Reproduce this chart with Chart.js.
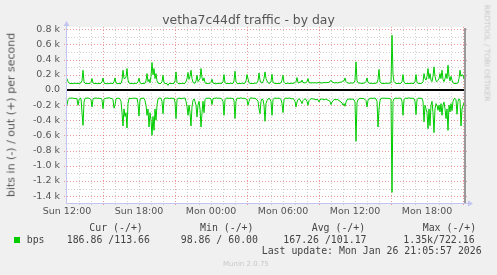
<!DOCTYPE html>
<html>
<head>
<meta charset="utf-8">
<script src="https://cdn.jsdelivr.net/npm/chart.js@4/dist/chart.umd.min.js"></script>
<style>
body { margin: 0; background: #f0f0f0; width: 497px; height: 275px; overflow: hidden; position: relative; font-family: "DejaVu Sans", sans-serif; }
canvas { position: absolute; left: 0; top: 0; }
.t { position: absolute; white-space: pre; color: #555; }
.mono { font-family: "DejaVu Sans Mono", monospace; font-size: 9.9px; line-height: 12px; color: #444; }
</style>
</head>
<body>
<canvas id="myChart" width="497" height="275"></canvas>
<div class="t" style="left:0;width:497px;text-align:center;top:11.5px;font-size:12.4px;line-height:15px;">vetha7c44df traffic - by day</div>
<div class="t" style="left:11px;top:114.5px;font-size:11px;line-height:13px;transform:translate(-50%,-50%) rotate(-90deg);">bits in (-) / out (+) per second</div>
<div class="t" style="left:487px;top:53px;font-size:7.5px;line-height:9px;color:#c8c8c8;transform:translate(-50%,-50%) rotate(90deg);">RRDTOOL / TOBI OETIKER</div>
<div id="legend"></div>
<div class="t" style="left:223px;top:259.6px;font-size:7px;line-height:9px;color:#c8c8c8;">Munin 2.0.75</div>
<script>
// 5 minute samples, starting Sun 12:00
const sampleMinutes = 5;
const seriesName = 'bps';
const seriesColor = '#00cc00';

const xTickValues = [0, 6, 12, 18, 24, 30];
const xTickLabels = ['Sun 12:00', 'Sun 18:00', 'Mon 00:00', 'Mon 06:00', 'Mon 12:00', 'Mon 18:00'];

const yTickValues = [-1400, -1200, -1000, -800, -600, -400, -200, 0, 200, 400, 600, 800];
const yTickLabels = ['-1.4 k', '-1.2 k', '-1.0 k', '-0.8 k', '-0.6 k', '-0.4 k', '-0.2 k', '0.0', '0.2 k', '0.4 k', '0.6 k', '0.8 k'];

// out (+)
const outValues = [
    150, 110, 92, 86, 84, 88, 82, 85, 90, 87,
    84, 88, 86, 90, 95, 120, 260, 110, 88, 84,
    86, 82, 88, 85, 100, 150, 92, 86, 83, 88,
    85, 82, 87, 84, 90, 105, 158, 95, 84, 86,
    80, 84, 88, 83, 90, 86, 84, 110, 158, 92,
    85, 82, 88, 84, 86, 130, 260, 150, 150, 170,
    282, 130, 92, 86, 84, 88, 85, 82, 90, 86,
    88, 110, 155, 95, 85, 82, 88, 84, 90, 120,
    216, 110, 140, 95, 180, 362, 200, 282, 150, 216,
    120, 90, 86, 84, 88, 110, 194, 95, 84, 86,
    82, 60, 85, 88, 84, 86, 82, 88, 120, 238,
    100, 86, 84, 82, 88, 85, 90, 84, 88, 110,
    150, 230, 140, 180, 260, 150, 100, 92, 88, 120,
    194, 110, 130, 150, 282, 160, 120, 160, 95, 86,
    88, 84, 90, 86, 100, 141, 92, 86, 84, 80,
    88, 85, 84, 90, 86, 88, 110, 203, 95, 86,
    84, 88, 82, 86, 90, 84, 88, 120, 247, 110,
    86, 82, 88, 84, 86, 90, 88, 84, 92, 120,
    203, 150, 95, 88, 84, 86, 82, 88, 92, 86,
    95, 120, 224, 130, 100, 90, 110, 150, 238, 150,
    120, 95, 88, 90, 110, 207, 100, 92, 86, 84,
    88, 85, 84, 88, 95, 130, 194, 100, 86, 84,
    88, 92, 86, 84, 88, 90, 86, 92, 95, 110,
    163, 95, 92, 110, 100, 130, 100, 95, 92, 98,
    110, 150, 100, 92, 95, 90, 98, 92, 96, 94,
    90, 98, 100, 92, 96, 90, 95, 100, 94, 98,
    100, 95, 105, 110, 128, 105, 100, 95, 92, 98,
    95, 92, 98, 105, 100, 110, 120, 120, 158, 110,
    95, 92, 90, 88, 95, 90, 92, 96, 130, 370,
    120, 95, 92, 88, 90, 86, 88, 92, 95, 110,
    158, 100, 92, 88, 86, 90, 84, 88, 86, 90,
    95, 140, 270, 110, 90, 88, 86, 84, 88, 90,
    86, 90, 88, 92, 95, 722, 200, 110, 95, 88,
    84, 86, 88, 84, 90, 110, 203, 100, 88, 84,
    86, 82, 88, 84, 86, 90, 84, 88, 110, 203,
    100, 88, 86, 84, 88, 90, 110, 216, 150, 130,
    180, 282, 150, 216, 130, 110, 180, 304, 180, 120,
    110, 128, 150, 216, 150, 260, 140, 110, 150, 216,
    150, 326, 180, 120, 180, 130, 95, 88, 84, 86,
    88, 95, 150, 260, 180, 200, 194, 150, 114
];

// in (-)
const inValues = [
    -202, -130, -112, -106, -110, -104, -112, -108, -115, -110,
    -120, -202, -130, -108, -112, -300, -466, -160, -112, -106,
    -110, -104, -112, -115, -130, -224, -125, -106, -110, -104,
    -112, -108, -106, -115, -110, -130, -246, -125, -108, -112,
    -104, -110, -99, -108, -114, -110, -130, -240, -200, -118,
    -106, -112, -108, -120, -150, -300, -475, -250, -350, -300,
    -502, -180, -112, -106, -118, -110, -108, -112, -106, -114,
    -110, -180, -343, -130, -108, -112, -106, -110, -140, -200,
    -334, -250, -488, -300, -400, -598, -350, -532, -250, -400,
    -200, -118, -110, -106, -112, -150, -312, -130, -106, -110,
    -104, -112, -108, -115, -106, -110, -112, -108, -160, -378,
    -130, -108, -110, -106, -118, -112, -108, -110, -106, -150,
    -220, -334, -200, -300, -475, -220, -140, -118, -150, -200,
    -356, -200, -150, -250, -488, -300, -150, -300, -130, -110,
    -108, -112, -106, -110, -120, -193, -118, -106, -112, -104,
    -110, -108, -106, -112, -110, -124, -150, -334, -130, -110,
    -106, -112, -108, -110, -106, -114, -110, -140, -378, -150,
    -110, -106, -112, -108, -104, -110, -112, -106, -114, -118,
    -130, -202, -150, -110, -106, -104, -112, -108, -110, -120,
    -130, -150, -250, -312, -150, -118, -130, -200, -413, -180,
    -140, -118, -112, -120, -150, -334, -130, -110, -106, -112,
    -108, -110, -106, -114, -125, -180, -298, -130, -110, -106,
    -112, -108, -110, -106, -114, -118, -112, -125, -150, -224,
    -160, -125, -118, -124, -150, -180, -140, -125, -118, -124,
    -150, -202, -140, -124, -118, -112, -120, -118, -125, -130,
    -124, -130, -158, -130, -120, -118, -125, -130, -124, -120,
    -128, -135, -140, -150, -193, -160, -140, -130, -124, -130,
    -125, -130, -140, -150, -160, -170, -200, -180, -215, -160,
    -130, -125, -118, -120, -124, -118, -125, -130, -160, -676,
    -170, -125, -118, -112, -110, -114, -110, -118, -125, -140,
    -224, -140, -118, -112, -108, -110, -112, -106, -110, -120,
    -150, -488, -250, -140, -112, -108, -110, -106, -112, -110,
    -108, -112, -110, -114, -125, -1350, -150, -118, -110, -106,
    -112, -108, -110, -106, -114, -150, -334, -130, -110, -106,
    -112, -108, -104, -110, -106, -112, -108, -114, -150, -325,
    -130, -110, -106, -112, -108, -114, -150, -420, -200, -250,
    -300, -510, -250, -470, -200, -150, -300, -563, -250, -180,
    -200, -268, -200, -290, -180, -334, -200, -160, -250, -378,
    -250, -532, -200, -290, -180, -273, -150, -118, -112, -130,
    -320, -150, -118, -130, -475, -250, -202, -170, -187
];

const legendHeaders = ['Cur (-/+)', 'Min (-/+)', 'Avg (-/+)', 'Max (-/+)'];
const legendValues = ['186.86 /113.66', '98.86 / 60.00', '167.26 /101.17', '1.35k/722.16'];
const lastUpdate = 'Last update: Mon Jan 26 21:05:57 2026';

// legend layout
const headerLeft = [89.3, 200, 311.7, 422.7];
const valueLeft = [66.7, 180.7, 283.3, 403.3];

const legend = document.getElementById('legend');
const addText = (txt, left, top, cls) => {
    const d = document.createElement('div');
    d.className = cls;
    d.style.left = left + 'px';
    d.style.top = top + 'px';
    d.textContent = txt;
    legend.appendChild(d);
};
legendHeaders.forEach((h, i) => addText(h, headerLeft[i], 222.2, 't mono'));
legendValues.forEach((v, i) => addText(v, valueLeft[i], 233.9, 't mono'));
addText(seriesName, 26.7, 233.9, 't mono');
addText(lastUpdate, 261.7, 245.2, 't mono');
const sq = document.createElement('div');
sq.style.cssText = 'position:absolute;left:14px;top:237px;width:6px;height:6px;background:' + seriesColor;
legend.appendChild(sq);

const toPoints = arr => arr.map((v, i) => ({ x: i * sampleMinutes / 60, y: v }));

const hline = (ctx, x1, x2, y) => { ctx.beginPath(); ctx.moveTo(x1, y); ctx.lineTo(x2, y); ctx.stroke(); };
const vline = (ctx, x, y1, y2) => { ctx.beginPath(); ctx.moveTo(x, y1); ctx.lineTo(x, y2); ctx.stroke(); };

const muninGrid = {
    id: 'munin_grid',
    beforeDatasetsDraw: (chart) => {
        const { ctx, chartArea: a, scales } = chart;
        const x = scales.x, y = scales.y;
        ctx.save();
        ctx.fillStyle = '#ffffff';
        ctx.fillRect(a.left, a.top, a.right - a.left, a.bottom - a.top);
        ctx.lineWidth = 1;
        ctx.setLineDash([1, 2]);
        // minor grid: every hour / every 100
        ctx.strokeStyle = '#d0d0d0';
        for (let h = 1; h < x.max; h++) {
            if ((h - 3) % 6 === 0) continue;
            const px = Math.round(x.getPixelForValue(h)) + 0.5;
            vline(ctx, px, a.top, a.bottom + 2);
        }
        for (let v = -1400; v <= 800; v += 100) {
            if (v % 200 === 0) continue;
            const py = Math.round(y.getPixelForValue(v)) + 0.5;
            hline(ctx, a.left - 2, a.right + 2, py);
        }
        // major grid
        ctx.strokeStyle = 'rgba(225,90,90,0.6)';
        for (let h = 3; h < x.max; h += 6) {
            const px = Math.round(x.getPixelForValue(h)) + 0.5;
            vline(ctx, px, a.top, a.bottom + 3);
        }
        yTickValues.forEach(v => {
            if (v === 0) return;
            const py = Math.round(y.getPixelForValue(v)) + 0.5;
            hline(ctx, a.left - 3, a.right + 3, py);
        });
        ctx.restore();
    },
    afterDatasetsDraw: (chart) => {
        const { ctx, chartArea: a, scales } = chart;
        const y = scales.y;
        ctx.save();
        // zero line
        const py0 = Math.round(y.getPixelForValue(0));
        ctx.fillStyle = '#000000';
        ctx.fillRect(a.left, py0 - 1, a.right - a.left, 2);
        // right edge
        ctx.fillStyle = '#9a9a9a';
        ctx.fillRect(a.right - 1, a.top + 1, 2, a.bottom - a.top - 1);
        // axes with arrows
        ctx.fillStyle = '#c4c4f2';
        ctx.fillRect(a.left - 1, a.top - 3, 1, a.bottom - a.top + 4);
        ctx.fillRect(a.left - 1, a.bottom, a.right - a.left + 6, 1);
        ctx.beginPath();
        ctx.moveTo(a.left - 3.5, a.top - 1);
        ctx.lineTo(a.left + 2.5, a.top - 1);
        ctx.lineTo(a.left - 0.5, a.top - 6);
        ctx.fill();
        ctx.beginPath();
        ctx.moveTo(a.right + 3, a.bottom - 2.5);
        ctx.lineTo(a.right + 3, a.bottom + 3.5);
        ctx.lineTo(a.right + 8, a.bottom + 0.5);
        ctx.fill();
        ctx.restore();
    }
};

const ctx = document.getElementById('myChart').getContext('2d');

const init = () => {
    new Chart(ctx, {
        type: 'line',
        plugins: [muninGrid],
        data: {
            datasets: [{
                label: 'out',
                data: toPoints(outValues),
                borderColor: seriesColor,
                borderWidth: 1,
                pointRadius: 0,
                tension: 0,
                fill: false
            }, {
                label: 'in',
                data: toPoints(inValues),
                borderColor: seriesColor,
                borderWidth: 1,
                pointRadius: 0,
                tension: 0,
                fill: false
            }]
        },
        options: {
            responsive: false,
            animation: false,
            devicePixelRatio: 1,
            layout: { padding: { top: 27, right: 32, bottom: 56, left: 0 } },
            plugins: { legend: { display: false }, tooltip: { enabled: false }, title: { display: false } },
            scales: {
                x: {
                    type: 'linear',
                    min: 0,
                    max: (outValues.length - 1) * sampleMinutes / 60,
                    afterFit: (s) => { s.height = 16; },
                    afterBuildTicks: (s) => { s.ticks = xTickValues.map(v => ({ value: v })); },
                    grid: { drawOnChartArea: false, drawTicks: false, color: 'transparent' },
                    border: { display: false },
                    ticks: {
                        autoSkip: false,
                        maxRotation: 0,
                        padding: 3,
                        color: '#555',
                        font: { family: 'DejaVu Sans', size: 9.5 },
                        callback: (v, i) => xTickLabels[i]
                    }
                },
                y: {
                    min: -1490,
                    max: 830,
                    afterFit: (s) => { s.width = 67; },
                    afterBuildTicks: (s) => { s.ticks = yTickValues.map(v => ({ value: v })); },
                    grid: { drawOnChartArea: false, drawTicks: false, color: 'transparent' },
                    border: { display: false },
                    ticks: {
                        autoSkip: false,
                        padding: 7,
                        color: '#555',
                        font: { family: 'DejaVu Sans', size: 9.5 },
                        callback: (v, i) => yTickLabels[i]
                    }
                }
            }
        }
    });
};

init();
</script>
</body>
</html>
